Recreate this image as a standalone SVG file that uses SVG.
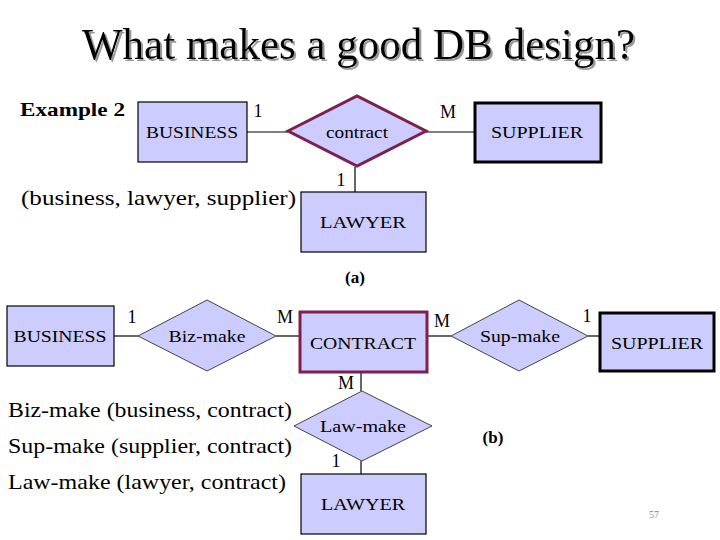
<svg xmlns="http://www.w3.org/2000/svg" width="720" height="540" viewBox="0 0 720 540" font-family="Liberation Serif, Times New Roman, Times, serif">
<defs>
<filter id="shadow" x="-5%" y="-20%" width="110%" height="150%">
<feDropShadow dx="2" dy="2" stdDeviation="0.6" flood-color="#999" flood-opacity="1"/>
</filter>
</defs>
<style>
text{font-family:'Liberation Serif','Times New Roman',Times,serif;fill:#000}
.ent{fill:#CCCCFF;stroke:#000;stroke-width:1.2}
.weak{fill:#CCCCFF;stroke:#000;stroke-width:3}
.mar{fill:#CCCCFF;stroke:#7E1F4C;stroke-width:3}
.rel{fill:#CCCCFF;stroke:#444;stroke-width:1}
.lbl{font-size:17px;text-anchor:middle}
.card{font-size:18px;text-anchor:middle}
.big{font-size:21px}
.con line{stroke:#000;stroke-width:1.2}
</style>
<rect width="720" height="540" fill="#fff"/>
<g id="title">
<text x="82" y="59" font-size="44" textLength="553" lengthAdjust="spacingAndGlyphs" filter="url(#shadow)">What makes a good DB design?</text>
</g>
<text x="20" y="116" font-size="19" font-weight="bold" textLength="105" lengthAdjust="spacingAndGlyphs">Example 2</text>
<text x="21" y="205" class="big" textLength="275" lengthAdjust="spacingAndGlyphs">(business, lawyer, supplier)</text>
<text x="355" y="283" font-size="17" font-weight="bold" text-anchor="middle">(a)</text>
<text x="493" y="443" font-size="17" font-weight="bold" text-anchor="middle">(b)</text>
<text x="8" y="417" class="big" textLength="284" lengthAdjust="spacingAndGlyphs">Biz-make (business, contract)</text>
<text x="8" y="453" class="big" textLength="284" lengthAdjust="spacingAndGlyphs">Sup-make (supplier, contract)</text>
<text x="8" y="489" class="big" textLength="278" lengthAdjust="spacingAndGlyphs">Law-make (lawyer, contract)</text>
<text x="654" y="518" font-size="10" style="fill:#888" text-anchor="middle">57</text>

<g class="con" id="connectors">
<line x1="247" y1="132" x2="288" y2="132"/>
<line x1="426" y1="132" x2="474" y2="132"/>
<line x1="355" y1="167" x2="355" y2="192"/>
<line x1="114" y1="336" x2="138" y2="336"/>
<line x1="276" y1="336" x2="300" y2="336"/>
<line x1="427" y1="336" x2="451" y2="336"/>
<line x1="588" y1="336" x2="599" y2="336"/>
<line x1="361" y1="372" x2="361" y2="391"/>
<line x1="361" y1="461" x2="361" y2="474"/>
</g>
<g id="cards">
<text x="258" y="117" class="card">1</text>
<text x="448" y="118" class="card">M</text>
<text x="341" y="186" class="card">1</text>
<text x="132" y="323" class="card">1</text>
<text x="285" y="323" class="card">M</text>
<text x="442" y="327" class="card">M</text>
<text x="587" y="322" class="card">1</text>
<text x="346" y="389" class="card">M</text>
<text x="336" y="467" class="card">1</text>
</g>

<g id="business-a"><rect class="ent" x="138" y="102" width="109" height="60"/><text x="192" y="138" class="lbl" textLength="92" lengthAdjust="spacingAndGlyphs">BUSINESS</text></g>
<g id="contract-a"><polygon class="mar" points="288,131 357,96 426,131 357,166"/><text x="357" y="138" class="lbl" textLength="62" lengthAdjust="spacingAndGlyphs">contract</text></g>
<g id="supplier-a"><rect class="weak" x="475" y="103" width="126" height="59"/><text x="537" y="138" class="lbl" textLength="92" lengthAdjust="spacingAndGlyphs">SUPPLIER</text></g>
<g id="lawyer-a"><rect class="ent" x="301" y="192" width="125" height="60"/><text x="363" y="228" class="lbl" textLength="86" lengthAdjust="spacingAndGlyphs">LAWYER</text></g>

<g id="business-b"><rect class="ent" x="7" y="306" width="107" height="60"/><text x="60" y="342" class="lbl" textLength="93" lengthAdjust="spacingAndGlyphs">BUSINESS</text></g>
<g id="bizmake"><polygon class="rel" points="138,336 207,300 276,336 207,371"/><text x="207" y="342" class="lbl" textLength="77" lengthAdjust="spacingAndGlyphs">Biz-make</text></g>
<g id="contract-b"><rect class="mar" x="300" y="312" width="127" height="60"/><text x="363" y="349" class="lbl" textLength="106" lengthAdjust="spacingAndGlyphs">CONTRACT</text></g>
<g id="supmake"><polygon class="rel" points="451,336 519,300 588,336 519,371"/><text x="520" y="342" class="lbl" textLength="80" lengthAdjust="spacingAndGlyphs">Sup-make</text></g>
<g id="supplier-b"><rect class="weak" x="600" y="313" width="114" height="58"/><text x="657" y="349" class="lbl" textLength="92" lengthAdjust="spacingAndGlyphs">SUPPLIER</text></g>
<g id="lawmake"><polygon class="rel" points="294,426 362,391 432,426 362,461"/><text x="363" y="432" class="lbl" textLength="86" lengthAdjust="spacingAndGlyphs">Law-make</text></g>
<g id="lawyer-b"><rect class="ent" x="301" y="474" width="125" height="60"/><text x="363" y="510" class="lbl" textLength="84" lengthAdjust="spacingAndGlyphs">LAWYER</text></g>
</svg>
